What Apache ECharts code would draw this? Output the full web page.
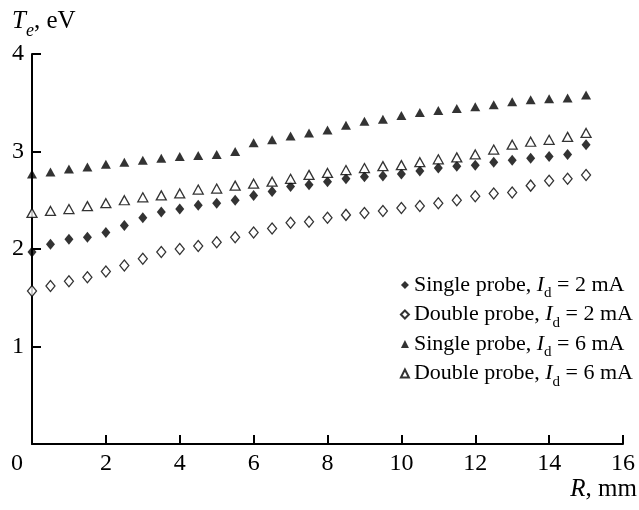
<!DOCTYPE html>
<html>
<head>
<meta charset="utf-8">
<script src="https://cdn.jsdelivr.net/npm/echarts@6/dist/echarts.min.js"></script>
<style>
    html, body { margin: 0; padding: 0; background: #fff; }
    #chart { width: 639px; height: 510px; }
</style>
</head>
<body>
<div id="chart"></div>
<script>
// Electron temperature vs radius, four probe series

const radius = [0, 0.5, 1, 1.5, 2, 2.5, 3, 3.5, 4, 4.5, 5, 5.5, 6, 6.5, 7, 7.5,
    8, 8.5, 9, 9.5, 10, 10.5, 11, 11.5, 12, 12.5, 13, 13.5, 14, 14.5, 15];

const single2 = [1.97, 2.05, 2.10, 2.12, 2.17, 2.24, 2.32, 2.38, 2.41, 2.45, 2.47, 2.50, 2.55, 2.59, 2.64, 2.66,
    2.69, 2.72, 2.74, 2.75, 2.77, 2.80, 2.83, 2.85, 2.86, 2.89, 2.91, 2.93, 2.95, 2.97, 3.07];
const double2 = [1.57, 1.62, 1.67, 1.71, 1.77, 1.83, 1.90, 1.97, 2.00, 2.03, 2.07, 2.12, 2.17, 2.21, 2.27, 2.28,
    2.32, 2.35, 2.37, 2.39, 2.42, 2.44, 2.47, 2.50, 2.54, 2.57, 2.58, 2.65, 2.70, 2.72, 2.76];
const single6 = [2.77, 2.79, 2.82, 2.84, 2.87, 2.89, 2.91, 2.93, 2.95, 2.96, 2.97, 3.00, 3.09, 3.12, 3.16, 3.19,
    3.22, 3.27, 3.31, 3.33, 3.37, 3.40, 3.42, 3.44, 3.46, 3.48, 3.51, 3.53, 3.54, 3.55, 3.58];
const double6 = [2.37, 2.39, 2.41, 2.44, 2.47, 2.50, 2.53, 2.55, 2.57, 2.61, 2.62, 2.65, 2.67, 2.69, 2.72, 2.76,
    2.78, 2.81, 2.83, 2.85, 2.86, 2.89, 2.92, 2.94, 2.97, 3.02, 3.07, 3.10, 3.12, 3.15, 3.19];

const seriesNames = ['Single 2', 'Double 2', 'Single 6', 'Double 6'];
const legendLabels = [
    'Single probe, {i|I}{s|d}{n| = 2 mA}',
    'Double probe, {i|I}{s|d}{n| = 2 mA}',
    'Single probe, {i|I}{s|d}{n| = 6 mA}',
    'Double probe, {i|I}{s|d}{n| = 6 mA}'
];

const FONT = '"Liberation Serif", "DejaVu Serif", serif';

const richText = {
    n: { fontFamily: FONT, fontSize: 22, color: '#000', lineHeight: 24 },
    i: { fontFamily: FONT, fontSize: 22, fontStyle: 'italic', color: '#000', lineHeight: 24 },
    s: { fontFamily: FONT, fontSize: 15, color: '#000', lineHeight: 24, verticalAlign: 'bottom', padding: [0, 0, -4, 0] }
};

const titleText = {
    n: { fontFamily: FONT, fontSize: 25, color: '#000', lineHeight: 26 },
    i: { fontFamily: FONT, fontSize: 25, fontStyle: 'italic', color: '#000', lineHeight: 26 },
    se: { fontFamily: FONT, fontSize: 18, fontStyle: 'italic', color: '#000', lineHeight: 26, verticalAlign: 'bottom', padding: [0, 0, -6, 0] }
};

function pairs(values) {
    return radius.map((r, k) => [r, values[k]]);
}

function makeSeries(name, values, symbol, filled, size) {
    return {
        name: name,
        type: 'scatter',
        data: pairs(values),
        symbol: symbol,
        symbolSize: size,
        itemStyle: filled
            ? { color: '#000' }
            : { color: '#fff', borderColor: '#000', borderWidth: 1.3 },
        emphasis: { disabled: true }
    };
}

const chart = echarts.init(document.getElementById('chart'));

const option = {
    animation: false,
    backgroundColor: '#fff',
    textStyle: { fontFamily: FONT },
    grid: { left: 32, right: 16, top: 54, bottom: 66, containLabel: false },
    xAxis: {
        type: 'value',
        min: 0,
        max: 16,
        interval: 2,
        axisLine: { show: true, lineStyle: { color: '#000', width: 2 } },
        axisTick: { show: true, inside: true, length: 9, lineStyle: { color: '#000', width: 2 } },
        splitLine: { show: false },
        axisLabel: {
            margin: 8,
            fontFamily: FONT,
            fontSize: 24,
            color: '#000',
            formatter: v => v === 0 ? '{z|0}' : String(v),
            rich: { z: { fontFamily: FONT, fontSize: 24, color: '#000', padding: [0, 30, 0, 0] } }
        }
    },
    yAxis: {
        type: 'value',
        min: 0,
        max: 4,
        interval: 1,
        axisLine: { show: true, lineStyle: { color: '#000', width: 2 } },
        axisTick: { show: true, inside: true, length: 9, lineStyle: { color: '#000', width: 2 } },
        splitLine: { show: false },
        axisLabel: {
            margin: 8,
            fontFamily: FONT,
            fontSize: 24,
            color: '#000',
            formatter: v => v === 0 ? '' : String(v)
        }
    },
    legend: {
        orient: 'vertical',
        right: 1,
        top: 269,
        itemWidth: 8,
        itemHeight: 8,
        itemGap: 2.5,
        data: seriesNames,
        formatter: name => legendLabels[seriesNames.indexOf(name)],
        textStyle: { fontFamily: FONT, fontSize: 22, color: '#000', rich: richText }
    },
    graphic: [
        {
            type: 'text',
            left: 12,
            top: 9,
            style: { text: '{i|T}{se|e}{n|, eV}', rich: titleText }
        },
        {
            type: 'text',
            right: 2,
            top: 477,
            style: { text: '{i|R}{n|, mm}', rich: { n: titleText.n, i: titleText.i } }
        }
    ],
    series: [
        makeSeries(seriesNames[0], single2, 'diamond', true, [9, 11]),
        makeSeries(seriesNames[1], double2, 'diamond', false, [9, 11]),
        makeSeries(seriesNames[2], single6, 'triangle', true, [10, 9]),
        makeSeries(seriesNames[3], double6, 'triangle', false, [10, 9])
    ]
};

chart.setOption(option);

window.addEventListener('resize', () => chart.resize());
</script>
</body>
</html>
